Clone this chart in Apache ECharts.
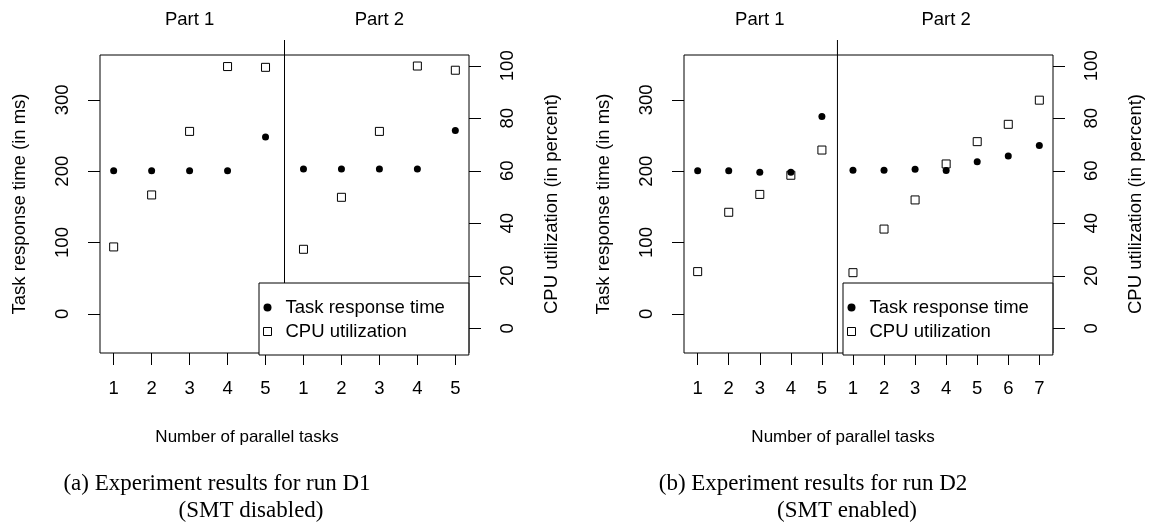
<!DOCTYPE html>
<html>
<head>
<meta charset="utf-8">
<title>Experiment results D1 / D2</title>
<script src="https://cdn.jsdelivr.net/npm/echarts@6/dist/echarts.min.js"></script>
<style>
  html, body { margin: 0; padding: 0; background: #fff; }
  #main { width: 1153px; height: 527px; }
</style>
</head>
<body>
<div id="main"></div>
<script>
// x tick labels (part 1 and part 2 are placed one after the other)
const d1Ticks = ['1', '2', '3', '4', '5', '1', '2', '3', '4', '5'];
const d2Ticks = ['1', '2', '3', '4', '5', '1', '2', '3', '4', '5', '6', '7'];
const d1PartSizes = [5, 5];
const d2PartSizes = [5, 7];
const partNames = ['Part 1', 'Part 2'];

// run D1 (SMT disabled)
const d1Response = [200.5, 200.5, 200.5, 200.5, 248, 203, 203, 203, 203, 257];
const d1Cpu = [31, 50.8, 75, 99.7, 99.4, 30.1, 49.9, 75, 99.9, 98.3];
// run D2 (SMT enabled)
const d2Response = [200.5, 200.5, 198.6, 198.6, 276.7, 201.4, 201.4, 202.8, 201, 213.1, 221.5, 236];
const d2Cpu = [21.6, 44.2, 51, 58.3, 67.9, 21.2, 37.8, 48.9, 62.6, 71.1, 77.7, 86.9];

// y ticks
const responseTicks = [0, 100, 200, 300];
const cpuTicks = [0, 20, 40, 60, 80, 100];

const FONT = '"Liberation Sans", Arial, sans-serif';
const SERIF = '"Liberation Serif", "Times New Roman", serif';
const FS = 18.5;

const chart = echarts.init(document.getElementById('main'));

function toPoints(arr) {
  return arr.map(function (v, i) { return [i + 1, v]; });
}
function range1(n) {
  const r = [];
  for (let i = 1; i <= n; i++) r.push(i);
  return r;
}
// middle of each part, for the "Part 1" / "Part 2" headers
function partCenters(sizes) {
  const res = [];
  let start = 0;
  sizes.forEach(function (s) {
    res.push(start + (s + 1) / 2);
    start += s;
  });
  return res;
}

// one bottom x axis + one top x axis (part headers) per panel
function xAxes(gridIndex, ticks, sizes) {
  const n = ticks.length;
  const pad = (n - 1) * 0.04; // same padding as R
  const centers = partCenters(sizes);
  return [
    {
      type: 'value', gridIndex: gridIndex, position: 'bottom',
      min: 1 - pad, max: n + pad,
      axisLine: { show: false, onZero: false },
      splitLine: { show: false },
      axisTick: { show: true, length: 12, customValues: range1(n), lineStyle: { color: '#000', width: 1 } },
      axisLabel: {
        customValues: range1(n), color: '#000', fontSize: FS, fontFamily: FONT, margin: 26,
        formatter: function (v) { return ticks[Math.round(v) - 1]; }
      }
    },
    {
      type: 'value', gridIndex: gridIndex, position: 'top',
      min: 1 - pad, max: n + pad,
      axisLine: { show: false, onZero: false },
      splitLine: { show: false },
      axisTick: { show: false },
      axisLabel: {
        customValues: centers, color: '#000', fontSize: FS, fontFamily: FONT, margin: 26,
        formatter: function (v) { return partNames[centers.indexOf(v)]; }
      }
    }
  ];
}

function yAxes(gridIndex) {
  return [
    {
      type: 'value', gridIndex: gridIndex, position: 'left',
      min: -55, max: 363,
      name: 'Task response time (in ms)', nameLocation: 'middle', nameRotate: 90, nameGap: 71,
      nameTextStyle: { color: '#000', fontSize: FS, fontFamily: FONT },
      axisLine: { show: false, onZero: false },
      splitLine: { show: false },
      axisTick: { show: true, length: 12, customValues: responseTicks, lineStyle: { color: '#000' } },
      axisLabel: { customValues: responseTicks, rotate: 90, color: '#000', fontSize: FS, fontFamily: FONT, margin: 28 }
    },
    {
      type: 'value', gridIndex: gridIndex, position: 'right',
      min: -9.4, max: 104.1,
      name: 'CPU utilization (in percent)', nameLocation: 'middle', nameRotate: 90, nameGap: 73,
      nameTextStyle: { color: '#000', fontSize: FS, fontFamily: FONT },
      axisLine: { show: false, onZero: false },
      splitLine: { show: false },
      axisTick: { show: true, length: 12, customValues: cpuTicks, lineStyle: { color: '#000' } },
      axisLabel: { customValues: cpuTicks, rotate: 90, color: '#000', fontSize: FS, fontFamily: FONT, margin: 29 }
    }
  ];
}

const squareIcon = 'path://M0,0L10,0L10,10L0,10Z';

function legendAt(left) {
  return {
    left: left, top: 283,
    orient: 'vertical',
    padding: [15, 24, 14, 4],
    itemGap: 5,
    itemWidth: 26,
    itemHeight: 8,
    backgroundColor: '#fff',
    borderColor: '#000',
    borderWidth: 1,
    borderRadius: 0,
    selectedMode: false,
    itemStyle: { borderWidth: 1 },
    textStyle: { color: '#000', fontSize: FS, fontFamily: FONT, lineHeight: 18 },
    data: [
      { name: 'Task response time', icon: 'circle' },
      { name: 'CPU utilization', icon: squareIcon }
    ]
  };
}

function seriesFor(xIndex, yIndex, response, cpu) {
  return [
    {
      name: 'Task response time', type: 'scatter',
      xAxisIndex: xIndex, yAxisIndex: yIndex,
      symbol: 'circle', symbolSize: 7,
      itemStyle: { color: '#000', opacity: 1 },
      data: toPoints(response)
    },
    {
      name: 'CPU utilization', type: 'scatter',
      xAxisIndex: xIndex, yAxisIndex: yIndex + 1,
      symbol: 'rect', symbolSize: 8,
      itemStyle: { color: 'rgba(0,0,0,0)', borderColor: '#000', borderWidth: 1, opacity: 1 },
      data: toPoints(cpu)
    }
  ];
}

const option = {
  animation: false,
  backgroundColor: '#fff',
  grid: [
    { left: 100, top: 55, width: 369, height: 298, show: true, borderColor: '#000', borderWidth: 1, backgroundColor: 'transparent' },
    { left: 684, top: 55, width: 369, height: 298, show: true, borderColor: '#000', borderWidth: 1, backgroundColor: 'transparent' }
  ],
  xAxis: xAxes(0, d1Ticks, d1PartSizes).concat(xAxes(1, d2Ticks, d2PartSizes)),
  yAxis: yAxes(0).concat(yAxes(1)),
  legend: [legendAt(259), legendAt(843)],
  series: seriesFor(0, 0, d1Response, d1Cpu).concat(seriesFor(2, 2, d2Response, d2Cpu))
};
chart.setOption(option);

// divider between part 1 and part 2, plus titles / captions
function dividerLine(gridIndex, sizes) {
  const xv = sizes[0] + 0.5;
  const p = chart.convertToPixel({ gridIndex: gridIndex }, [xv, 0]);
  const grid = chart.getModel().getComponent('grid', gridIndex).coordinateSystem.getRect();
  return {
    type: 'line', z: 3, silent: true,
    shape: { x1: p[0], y1: grid.y - 15, x2: p[0], y2: grid.y + grid.height },
    style: { stroke: '#000', lineWidth: 1 }
  };
}
function label(text, x, y, font, size) {
  return {
    type: 'text', z: 3, silent: true,
    style: { text: text, x: x, y: y, textAlign: 'center', textVerticalAlign: 'middle', fill: '#000', fontSize: size, fontFamily: font }
  };
}

chart.setOption({
  graphic: [
    dividerLine(0, d1PartSizes),
    dividerLine(1, d2PartSizes),
    label('Number of parallel tasks', 247, 437, FONT, 17),
    label('Number of parallel tasks', 843, 437, FONT, 17),
    label('(a) Experiment results for run D1', 217, 484, SERIF, 23),
    label('(SMT disabled)', 251, 511, SERIF, 23),
    label('(b) Experiment results for run D2', 813, 484, SERIF, 23),
    label('(SMT enabled)', 847, 511, SERIF, 23)
  ]
});
</script>
</body>
</html>
